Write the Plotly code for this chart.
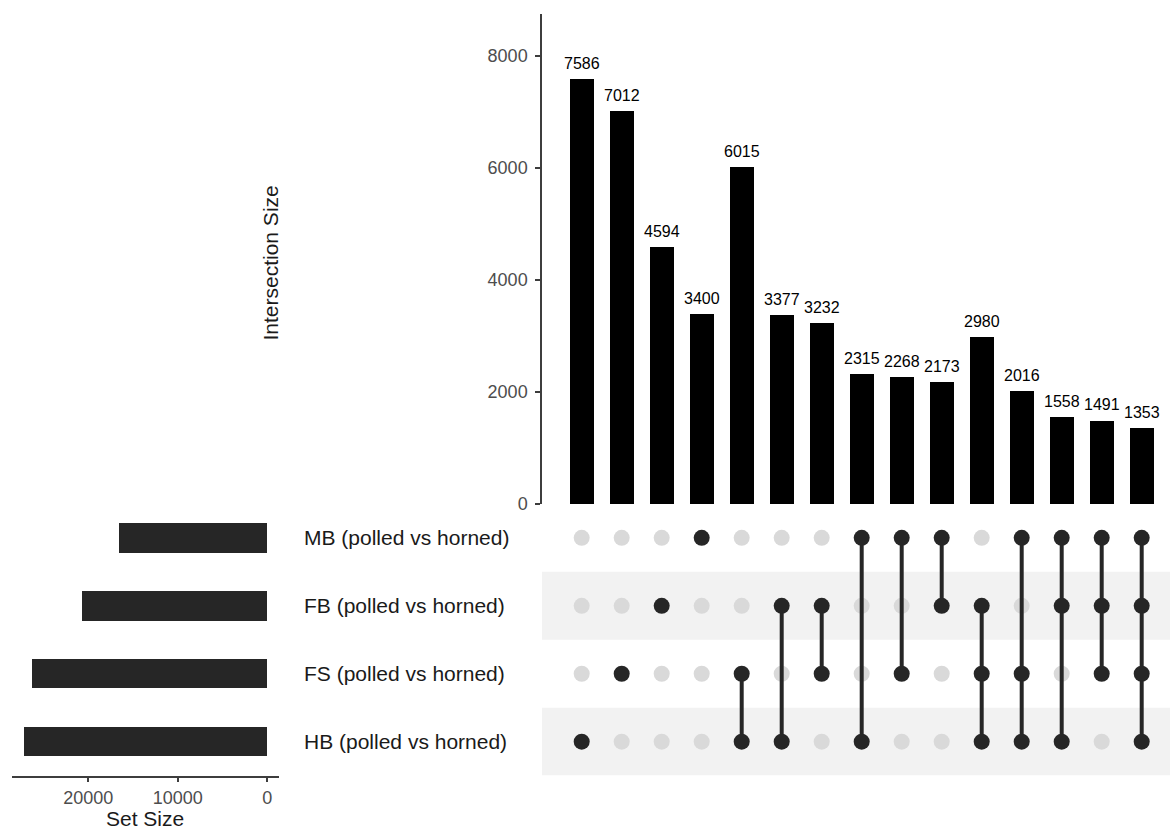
import plotly.graph_objects as go

# Intersection sizes (UpSet columns, left to right)
intersection_sizes = [7586, 7012, 4594, 3400, 6015, 3377, 3232, 2315, 2268, 2173,
                      2980, 2016, 1558, 1491, 1353]

# Sets, listed from bottom row to top row of the matrix
set_names = ["HB (polled vs horned)", "FS (polled vs horned)",
             "FB (polled vs horned)", "MB (polled vs horned)"]
set_short = ["HB", "FS", "FB", "MB"]
set_sizes = [27200, 26367, 20758, 16574]

# Membership of each intersection column
memberships = [
    ["HB"], ["FS"], ["FB"], ["MB"],
    ["FS", "HB"], ["FB", "HB"], ["FB", "FS"], ["MB", "HB"], ["MB", "FS"], ["MB", "FB"],
    ["FB", "FS", "HB"], ["MB", "FS", "HB"], ["MB", "FB", "HB"], ["MB", "FB", "FS"],
    ["MB", "FB", "FS", "HB"],
]

intersect_ticks = [0, 2000, 4000, 6000, 8000]
setsize_ticks = [0, 10000, 20000]

W, H = 1170, 836
FONT = "Liberation Sans, Arial, sans-serif"
DARK = "#262626"
LIGHT = "#d9d9d9"
BAND = "#f2f2f2"
AXIS_COL = "#3d3d3d"
TICK_FONT_COL = "#4d4d4d"


def px(x):
    return x / W


def py(y):
    return 1 - y / H


n_cols = len(intersection_sizes)
cols = list(range(n_cols))
row_of = {s: i for i, s in enumerate(set_short)}

# Pixel layout of the three panels
col0_px, col_step = 581.7, 40.0
mat_left, mat_right = 542, 1170
x_range = [(mat_left - col0_px) / col_step, (mat_right - col0_px) / col_step]
top_dom = [py(510), py(14)]
mat_dom = [py(785), py(510)]
set_dom = [px(11.7), px(279.3)]

fig = go.Figure()

# Intersection size bars
fig.add_trace(go.Bar(
    x=cols, y=intersection_sizes, width=0.6,
    marker=dict(color="#000000", line=dict(width=0)),
    xaxis="x", yaxis="y", showlegend=False, hoverinfo="y",
))

# Matrix: background dots
bg_x, bg_y = [], []
for c in cols:
    for r in range(len(set_short)):
        if set_short[r] not in memberships[c]:
            bg_x.append(c)
            bg_y.append(r)
fig.add_trace(go.Scatter(
    x=bg_x, y=bg_y, mode="markers",
    marker=dict(size=16, color=LIGHT, line=dict(width=0)),
    xaxis="x2", yaxis="y2", showlegend=False, hoverinfo="skip",
))

# Matrix: connecting lines
ln_x, ln_y = [], []
for c in cols:
    rows = [row_of[s] for s in memberships[c]]
    if len(rows) > 1:
        ln_x += [c, c, None]
        ln_y += [min(rows), max(rows), None]
fig.add_trace(go.Scatter(
    x=ln_x, y=ln_y, mode="lines",
    line=dict(color=DARK, width=4),
    xaxis="x2", yaxis="y2", showlegend=False, hoverinfo="skip",
))

# Matrix: member dots
fg_x, fg_y = [], []
for c in cols:
    for s in memberships[c]:
        fg_x.append(c)
        fg_y.append(row_of[s])
fig.add_trace(go.Scatter(
    x=fg_x, y=fg_y, mode="markers",
    marker=dict(size=16, color=DARK, line=dict(width=0)),
    xaxis="x2", yaxis="y2", showlegend=False, hoverinfo="skip",
))

# Set size bars
fig.add_trace(go.Bar(
    x=set_sizes, y=list(range(len(set_short))), orientation="h", width=0.43,
    marker=dict(color=DARK, line=dict(width=0)),
    xaxis="x3", yaxis="y3", showlegend=False, hoverinfo="x",
))

annotations = []
# Value labels above intersection bars
for c, v in zip(cols, intersection_sizes):
    annotations.append(dict(
        x=c, y=v, xref="x", yref="y", text=str(v), showarrow=False,
        yanchor="bottom", yshift=5, font=dict(size=16, color="#000000", family=FONT),
    ))
# Set labels
for r, name in enumerate(set_names):
    annotations.append(dict(
        x=px(302), y=r, xref="paper", yref="y2", text=name, showarrow=False,
        xanchor="left", yanchor="middle", font=dict(size=21, color="#1a1a1a", family=FONT),
    ))
# Axis titles
annotations.append(dict(
    x=px(270.7), y=py(266), xref="paper", yref="paper", text="Intersection Size",
    textangle=-90, showarrow=False, xanchor="center", yanchor="middle",
    font=dict(size=21, color="#1a1a1a", family=FONT),
))
annotations.append(dict(
    x=px(145), y=py(828), xref="paper", yref="paper", text="Set Size",
    showarrow=False, xanchor="center", yanchor="middle",
    font=dict(size=21, color="#1a1a1a", family=FONT),
))

# Shaded alternate rows of the matrix
shapes = []
for r in range(len(set_short)):
    if r % 2 == 0:
        shapes.append(dict(
            type="rect", xref="paper", yref="y2", x0=px(mat_left), x1=1,
            y0=r - 0.5, y1=r + 0.5, fillcolor=BAND, line=dict(width=0), layer="below",
        ))

max_set = max(set_sizes)
fig.update_layout(
    width=W, height=H, autosize=False, margin=dict(l=0, r=0, t=0, b=0, pad=0),
    paper_bgcolor="white", plot_bgcolor="rgba(0,0,0,0)",
    font=dict(family=FONT),
    bargap=0,
    xaxis=dict(domain=[px(mat_left), 1], range=x_range, visible=False, anchor="y"),
    yaxis=dict(domain=top_dom, range=[0, 8753], anchor="x",
               tickmode="array", tickvals=intersect_ticks,
               showline=True, linecolor=AXIS_COL, linewidth=1.5,
               ticks="outside", ticklen=5, tickwidth=1.5, tickcolor=AXIS_COL,
               tickfont=dict(size=18, color=TICK_FONT_COL, family=FONT),
               ticklabelstandoff=4,
               showgrid=False, zeroline=False),
    xaxis2=dict(domain=[px(mat_left), 1], range=x_range, visible=False, anchor="y2"),
    yaxis2=dict(domain=mat_dom, range=[-0.5, 3.5], visible=False, anchor="x2"),
    xaxis3=dict(domain=set_dom, range=[1.05 * max_set, -0.05 * max_set], anchor="y3",
                tickmode="array", tickvals=setsize_ticks,
                ticktext=[str(t) for t in setsize_ticks],
                showline=True, linecolor=AXIS_COL, linewidth=1.5,
                ticks="outside", ticklen=5, tickwidth=1.5, tickcolor=AXIS_COL,
                tickfont=dict(size=18, color=TICK_FONT_COL, family=FONT),
                showgrid=False, zeroline=False),
    yaxis3=dict(domain=mat_dom, range=[-0.5, 3.5], visible=False, anchor="x3"),
    annotations=annotations,
    shapes=shapes,
)

fig.write_html("out.html")
